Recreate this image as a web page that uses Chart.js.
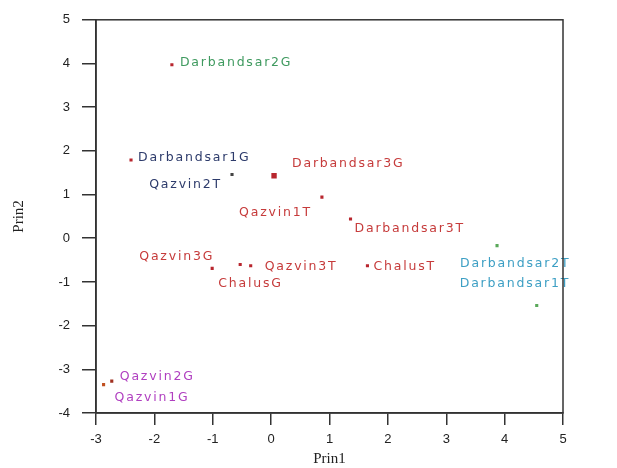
<!DOCTYPE html>
<html><head><meta charset="utf-8">
<script src="https://cdn.jsdelivr.net/npm/chart.js@4/dist/chart.umd.min.js"></script>
<style>html,body{margin:0;padding:0;background:#fff}#wrap{width:617px;height:468px;position:relative}</style>
</head><body><div id="wrap"><canvas id="c"></canvas></div>
<script>
// ---- data ----
const names = ["Darbandsar2G","Darbandsar1G","Qazvin2T","Darbandsar3G","Qazvin1T","Darbandsar3T","Qazvin3G","Qazvin3T","ChalusG","ChalusT","Darbandsar2T","Darbandsar1T","Qazvin2G","Qazvin1G"];
const prin1 = [-1.70,-2.40,-0.67,0.05,0.87,1.36,-1.01,-0.35,-0.53,1.65,3.87,4.55,-2.73,-2.87];
const prin2 = [3.97,1.79,1.46,1.43,0.94,0.44,-0.69,-0.63,-0.60,-0.63,-0.17,-1.54,-3.27,-3.35];
const xTickValues = [-3,-2,-1,0,1,2,3,4,5];
const yTickValues = [-4,-3,-2,-1,0,1,2,3,4,5];

// ---- styles (not data) ----
const RED='#c63b3b', GREEN='#3f9a5f', NAVY='#2d3b6b', CYAN='#3d9fc4', PURPLE='#b03fc0';
const labelColors = [GREEN,NAVY,NAVY,RED,RED,RED,RED,RED,RED,RED,CYAN,CYAN,PURPLE,PURPLE];
const dotColors = ['#b8262e','#b8262e','#444444','#b8262e','#b8262e','#b8262e','#b8262e','#b8262e','#b8262e','#b8262e','#5aa85a','#5aa85a','#a03020','#c05020'];
const dotRadius = [2.2,2.2,2.2,3.8,2.2,2.2,2.2,2.2,2.2,2.2,2.2,2.2,2.2,2.2];
// [dx, dy, align] label offset from its dot in pixels
const labelOffsets = [[8,-2,'left'],[7,-2,'left'],[-10,10,'right'],[18,-12,'left'],[-10,16,'right'],[4,10,'left'],[2,-12,'right'],[14,1,'left'],[-22,19,'left'],[6,1,'left'],[-37,18,'left'],[-77,-22,'left'],[8,-4,'left'],[11,13,'left']];

const points = prin1.map((x,i)=>({x, y: prin2[i]}));

const labelPlugin = {
  id:'pointLabels',
  afterDatasetsDraw(chart){
    const ctx = chart.ctx;
    const meta = chart.getDatasetMeta(0);
    ctx.save();
    ctx.font = '12.5px "DejaVu Sans"';
    if ('letterSpacing' in ctx) ctx.letterSpacing = '1.8px';
    ctx.textBaseline = 'middle';
    meta.data.forEach((el,i)=>{
      const [dx,dy,al] = labelOffsets[i];
      ctx.fillStyle = labelColors[i];
      ctx.textAlign = al;
      ctx.fillText(names[i], el.x+dx, el.y+dy);
    });
    ctx.restore();
  }
};
const framePlugin = {
  id:'frame',
  afterDraw(chart){
    const {left,top,right,bottom} = chart.chartArea;
    const ctx = chart.ctx;
    ctx.save();
    ctx.strokeStyle='#333'; ctx.lineWidth=1.5;
    ctx.strokeRect(left,top,right-left,bottom-top);
    ctx.restore();
  }
};

new Chart(document.getElementById('c'), {
  type:'scatter',
  data:{datasets:[{data:points, pointStyle:'rect', pointRadius:dotRadius, pointBackgroundColor:dotColors, pointBorderWidth:0, pointBorderColor:dotColors}]},
  options:{
    responsive:true, maintainAspectRatio:false, animation:false,
    layout:{padding:{top:19,right:54,left:0,bottom:0}},
    plugins:{legend:{display:false}, tooltip:{enabled:false}},
    scales:{
      x:{type:'linear', min:-3, max:5,
        afterBuildTicks(s){ s.ticks = xTickValues.map(v=>({value:v})); },
        afterFit(s){ s.height = 55; },
        ticks:{padding:7, color:'#222', font:{family:'"Liberation Sans", Arial', size:13}},
        grid:{drawOnChartArea:false, tickLength:12, color:'#333', lineWidth:1.5},
        border:{color:'#333', width:1.5},
        title:{display:true, text:'Prin1', color:'#222', font:{family:'"Liberation Serif", serif', size:15}, padding:{top:0,bottom:0}}
      },
      y:{type:'linear', min:-4, max:5,
        afterBuildTicks(s){ s.ticks = yTickValues.map(v=>({value:v})); },
        afterFit(s){ s.width = 96; },
        ticks:{padding:12, color:'#222', font:{family:'"Liberation Sans", Arial', size:13}},
        grid:{drawOnChartArea:false, tickLength:14, color:'#333', lineWidth:1.5},
        border:{color:'#333', width:1.5},
        title:{display:true, text:'Prin2', color:'#222', font:{family:'"Liberation Serif", serif', size:15}, padding:{top:10,bottom:0}}
      }
    }
  },
  plugins:[labelPlugin, framePlugin]
});
</script></body></html>
